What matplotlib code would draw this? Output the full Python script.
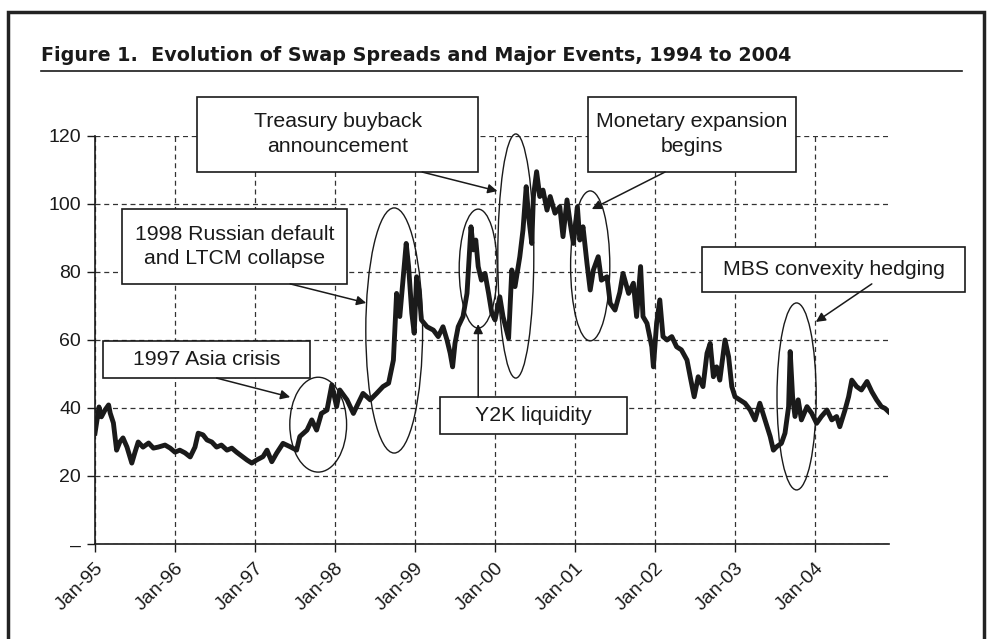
import numpy as np
import matplotlib
matplotlib.use('Agg')
import matplotlib.pyplot as plt
from matplotlib.patches import Rectangle, Ellipse
from matplotlib.lines import Line2D

plt.rcParams['font.family'] = ['Liberation Sans', 'DejaVu Sans']

# swap spread (basis points), dates in decimal years
dates = [
    1995.00, 1995.02, 1995.05, 1995.08, 1995.125, 1995.17, 1995.19, 1995.23,
    1995.27, 1995.31, 1995.35, 1995.40, 1995.46, 1995.50, 1995.54, 1995.60,
    1995.67, 1995.73, 1995.79, 1995.875, 1995.94, 1996.00, 1996.06, 1996.125,
    1996.19, 1996.25, 1996.29, 1996.35, 1996.40, 1996.46, 1996.52, 1996.58,
    1996.65, 1996.71, 1996.77, 1996.90, 1996.96, 1997.02, 1997.10, 1997.15,
    1997.21, 1997.27, 1997.35, 1997.44, 1997.52, 1997.56, 1997.65, 1997.71,
    1997.77, 1997.83, 1997.90, 1997.96, 1998.02, 1998.06, 1998.15, 1998.23,
    1998.27, 1998.35, 1998.44, 1998.52, 1998.60, 1998.67, 1998.73, 1998.75,
    1998.77, 1998.81, 1998.85, 1998.89, 1998.92, 1998.96, 1998.99, 1999.02,
    1999.05, 1999.08, 1999.15, 1999.23, 1999.29, 1999.35, 1999.40, 1999.44,
    1999.47, 1999.50, 1999.54, 1999.60, 1999.65, 1999.70, 1999.73, 1999.76,
    1999.79, 1999.83, 1999.875, 1999.92, 1999.96, 2000.00, 2000.06, 2000.10,
    2000.17, 2000.21, 2000.25, 2000.31, 2000.35, 2000.39, 2000.42, 2000.46,
    2000.48, 2000.52, 2000.56, 2000.60, 2000.65, 2000.69, 2000.75, 2000.81,
    2000.85, 2000.90, 2000.94, 2000.98, 2001.03, 2001.06, 2001.10, 2001.15,
    2001.19, 2001.23, 2001.29, 2001.33, 2001.40, 2001.44, 2001.50, 2001.56,
    2001.60, 2001.67, 2001.73, 2001.77, 2001.82, 2001.85, 2001.90, 2001.96,
    2001.98, 2002.02, 2002.06, 2002.10, 2002.15, 2002.21, 2002.27, 2002.33,
    2002.40, 2002.44, 2002.49, 2002.54, 2002.60, 2002.65, 2002.69, 2002.73,
    2002.77, 2002.81, 2002.875, 2002.92, 2002.96, 2003.00, 2003.06, 2003.125,
    2003.19, 2003.25, 2003.31, 2003.375, 2003.44, 2003.48, 2003.52, 2003.58,
    2003.625, 2003.67, 2003.69, 2003.72, 2003.75, 2003.79, 2003.83, 2003.90,
    2003.96, 2004.02, 2004.08, 2004.15, 2004.21, 2004.27, 2004.31, 2004.375,
    2004.42, 2004.46, 2004.52, 2004.58, 2004.65, 2004.71, 2004.77, 2004.83,
    2004.875, 2004.92,
]
spread = [
    32.6, 35.6, 40.3, 37.4, 39.4, 40.9, 38.5, 35.6,
    27.6, 30.0, 31.2, 28.5, 23.8, 27.0, 30.0, 28.5,
    29.7, 28.2, 28.5, 29.1, 28.2, 27.0, 27.6, 26.8,
    25.6, 28.5, 32.6, 32.1, 30.6, 30.0, 28.5, 29.1,
    27.6, 28.2, 27.0, 24.7, 23.8, 24.7, 25.7, 27.6,
    24.2, 26.7, 29.6, 28.6, 27.6, 31.6, 33.5, 36.5,
    33.5, 38.4, 39.4, 46.8, 40.4, 45.3, 42.4, 38.4,
    40.4, 44.3, 42.4, 44.3, 46.3, 47.3, 54.1, 63.9,
    73.7, 66.9, 77.6, 88.4, 81.6, 67.9, 62.0, 78.6,
    74.7, 65.9, 63.9, 62.9, 61.0, 63.9, 60.0, 56.1,
    52.1, 59.0, 63.9, 66.9, 73.7, 93.3, 86.5, 89.4,
    81.6, 77.6, 79.6, 73.7, 67.9, 65.9, 72.7, 66.9,
    60.5, 80.6, 75.7, 84.5, 92.4, 105.1, 96.3, 88.4,
    102.2, 109.5, 102.2, 104.1, 98.2, 102.2, 97.3, 99.2,
    90.4, 101.2, 94.3, 88.4, 99.2, 89.4, 93.3, 82.5,
    74.7, 80.6, 84.5, 77.6, 78.6, 70.8, 68.8, 74.0,
    79.6, 73.7, 76.7, 66.9, 81.6, 66.9, 64.9, 58.0,
    52.1, 64.9, 71.8, 61.0, 60.0, 61.0, 58.0, 57.1,
    54.1, 49.2, 43.3, 49.2, 46.3, 56.1, 59.0, 49.2,
    52.1, 48.2, 60.0, 55.1, 46.3, 43.3, 42.4, 41.4,
    39.4, 36.5, 41.4, 36.5, 31.6, 27.6, 28.6, 29.6,
    32.6, 40.4, 56.6, 43.3, 37.5, 42.4, 36.5, 40.4,
    38.4, 35.5, 37.5, 39.4, 36.5, 37.5, 34.5, 39.4,
    43.3, 48.2, 46.3, 45.3, 47.8, 44.8, 42.4, 40.4,
    39.9, 38.9,
]

year_ticks = list(range(1995, 2005))
x_labels = ['Jan-%02d' % (y % 100) for y in year_ticks]
y_ticks = [0, 20, 40, 60, 80, 100, 120]
y_labels = ['\u2013', '20', '40', '60', '80', '100', '120']

title = 'Figure 1.  Evolution of Swap Spreads and Major Events, 1994 to 2004'

# event call-outs: text, box (x0, x1, y0, y1), ellipse (cx, cy, w, h), arrow (start, tip)
event_text = ['1997 Asia crisis', '1998 Russian default\nand LTCM collapse',
              'Treasury buyback\nannouncement', 'Y2K liquidity',
              'Monetary expansion\nbegins', 'MBS convexity hedging']
event_box = [(1995.10, 1997.69, 48.8, 59.7), (1995.34, 1998.15, 76.5, 98.5),
             (1996.275, 1999.79, 109.4, 131.5), (1999.31, 2001.65, 32.4, 43.2),
             (2001.16, 2003.76, 109.4, 131.5), (2002.59, 2005.875, 74.1, 87.4)]
event_ellipse = [(1997.79, 35.1, 0.71, 27.9), (1998.74, 62.8, 0.71, 72.1),
                 (2000.26, 84.7, 0.45, 71.8), (1999.79, 81.0, 0.475, 35.0),
                 (2001.19, 81.8, 0.49, 44.1), (2003.77, 43.4, 0.49, 55.0)]
event_arrow = [((1996.52, 48.8), (1997.44, 43.2)), ((1997.44, 76.5), (1998.39, 70.9)),
               ((1999.09, 109.4), (2000.03, 103.8)), ((1999.79, 43.2), (1999.79, 64.7)),
               ((2002.125, 109.4), (2001.21, 98.5)), ((2004.71, 76.5), (2004.01, 65.3))]

ink = '#1a1a1a'

fig = plt.figure(figsize=(9.88, 6.39), dpi=100)
ax = fig.add_axes([95 / 988, 1 - 544 / 639, 794 / 988, 408 / 639])

ax.plot(dates, spread, color=ink, lw=3.5, solid_joinstyle='round', zorder=3)

ax.set_xlim(1995, 2004.925)
ax.set_ylim(0, 120)
ax.set_xticks(year_ticks)
ax.set_xticklabels(x_labels, rotation=45, ha='right', va='top', rotation_mode='anchor')
ax.set_yticks(y_ticks)
ax.set_yticklabels(y_labels)
ax.tick_params(direction='out', length=6, width=1, labelsize=14, colors=ink)
ax.tick_params(axis='x', pad=5)
ax.tick_params(axis='y', pad=4)
ax.grid(True, ls=(0, (4, 3)), color='#333333', lw=0.9, zorder=1)
for s in ['top', 'right']:
    ax.spines[s].set_visible(False)
for s in ['left', 'bottom']:
    ax.spines[s].set_color(ink)
    ax.spines[s].set_linewidth(1.2)

for txt, (x0, x1, y0, y1), (cx, cy, w, h), (a, b) in zip(
        event_text, event_box, event_ellipse, event_arrow):
    ax.add_patch(Ellipse((cx, cy), w, h, fill=False, ec=ink, lw=1.0,
                         clip_on=False, zorder=4))
    ax.add_patch(Rectangle((x0, y0), x1 - x0, y1 - y0, fc='white', ec=ink,
                           lw=1.2, clip_on=False, zorder=5))
    ax.text((x0 + x1) / 2, (y0 + y1) / 2, txt, ha='center', va='center',
            fontsize=15.3, color=ink, linespacing=1.4, zorder=6)
    ax.annotate('', xy=b, xytext=a, annotation_clip=False, zorder=5,
                arrowprops=dict(arrowstyle='-|>', color=ink, lw=1.1,
                                mutation_scale=14, shrinkA=0, shrinkB=0))

# title, rule under it, and the outer frame
fig.text(41 / 988, 1 - 61 / 639, title, fontsize=13.8, fontweight='bold',
         family='DejaVu Sans', color=ink, va='baseline', ha='left')
fig.add_artist(Line2D([41 / 988, 962 / 988], [1 - 71 / 639] * 2, color=ink, lw=1.2))
fig.add_artist(Rectangle((8 / 988, -0.05), 976 / 988, 1.05 - 12 / 639, fill=False,
                         ec='#222222', lw=2.5, transform=fig.transFigure))

fig.savefig('out.png', dpi=100)
